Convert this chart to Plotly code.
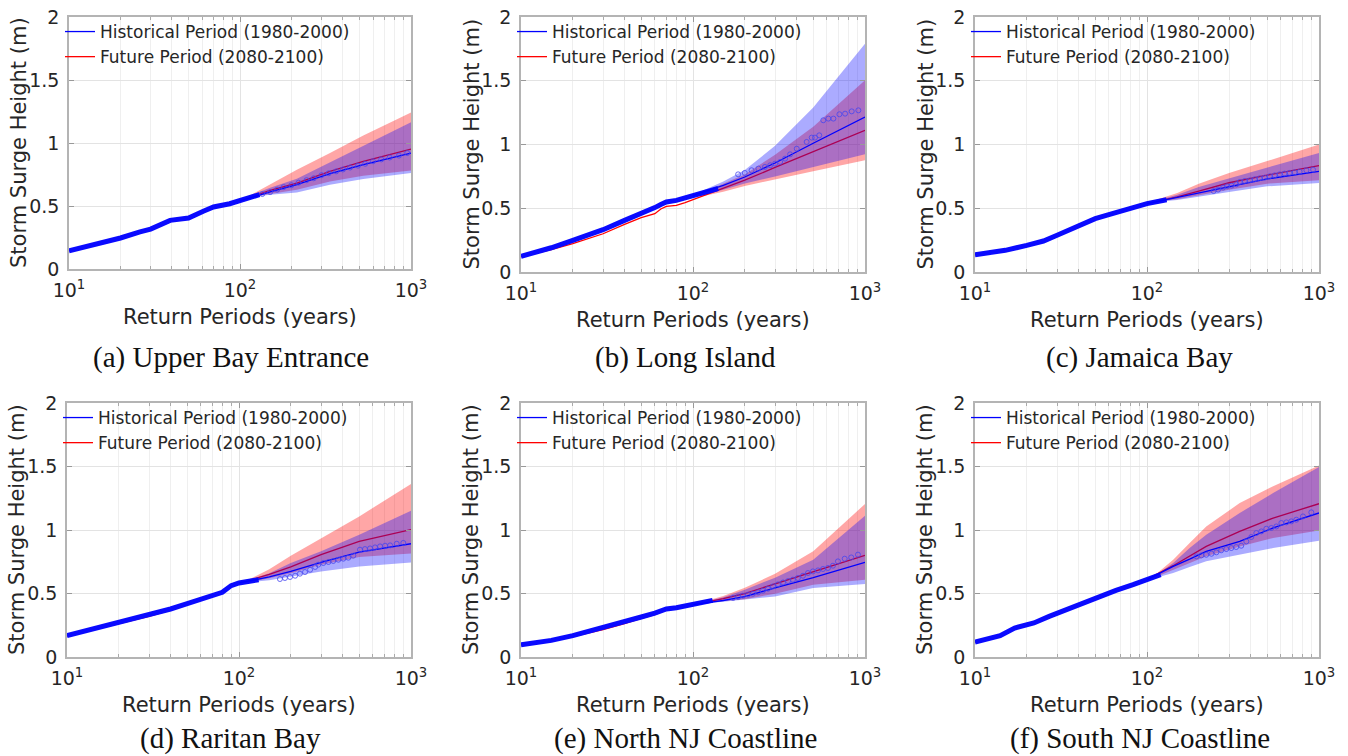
import plotly.graph_objects as go

W, H = 1348, 756

# ---------------- data ----------------
captions = ["(a) Upper Bay Entrance", "(b) Long Island", "(c) Jamaica Bay",
            "(d) Raritan Bay", "(e) North NJ Coastline", "(f) South NJ Coastline"]
hist_name = "Historical Period (1980-2000)"
fut_name = "Future Period (2080-2100)"
x_tick_vals = [10, 100, 1000]
x_tick_text = ["10<sup>1</sup>", "10<sup>2</sup>", "10<sup>3</sup>"]
y_tick_vals = [0, 0.5, 1, 1.5, 2]
y_tick_text = ["0", "0.5", "1", "1.5", "2"]

# (a) Upper Bay Entrance
a_emp_x = [10, 15, 20, 26, 30, 39, 50, 61, 70, 87, 100, 120, 130]
a_emp_y = [0.145, 0.20, 0.246, 0.294, 0.317, 0.386, 0.405, 0.458, 0.492, 0.518, 0.54, 0.577, 0.59]
a_fut_x = [10, 20, 30, 40, 50, 60, 70, 87, 100, 120, 150, 215, 336, 526, 1000]
a_fut_y = [0.143, 0.24, 0.31, 0.38, 0.40, 0.455, 0.49, 0.515, 0.54, 0.577, 0.625, 0.682, 0.775, 0.854, 0.952]
a_fit_x = [100, 150, 215, 336, 526, 1000]
a_fit_y = [0.54, 0.612, 0.669, 0.756, 0.828, 0.92]
a_band_x = [115, 150, 215, 336, 526, 1000]
a_fut_up = [0.585, 0.67, 0.788, 0.92, 1.06, 1.243]
a_fut_lo = [0.57, 0.595, 0.629, 0.695, 0.74, 0.782]
a_hist_up = [0.583, 0.645, 0.717, 0.847, 0.976, 1.164]
a_hist_lo = [0.57, 0.59, 0.608, 0.669, 0.714, 0.762]
a_circ_x = [135, 150, 165, 180, 200, 220, 245, 270, 300, 330, 365, 400, 440, 490, 540, 600, 670, 750, 850, 950]
a_circ_y = [0.595, 0.61, 0.63, 0.65, 0.665, 0.685, 0.705, 0.72, 0.745, 0.76, 0.775, 0.79,
            0.805, 0.82, 0.835, 0.855, 0.87, 0.885, 0.90, 0.92]

# (b) Long Island
b_emp_x = [10, 15, 20, 30, 40, 50, 60, 65, 70, 80, 90, 100, 120, 140]
b_emp_y = [0.123, 0.19, 0.248, 0.332, 0.405, 0.457, 0.505, 0.53, 0.549, 0.562, 0.583, 0.60, 0.625, 0.655]
b_fut_x = [10, 15, 20, 30, 40, 50, 60, 65, 70, 80, 90, 100, 150, 200, 300, 500, 1000]
b_fut_y = [0.12, 0.175, 0.222, 0.30, 0.374, 0.426, 0.457, 0.494, 0.515, 0.523, 0.544, 0.567,
           0.655, 0.72, 0.82, 0.945, 1.111]
b_fit_x = [100, 150, 200, 300, 500, 1000]
b_fit_y = [0.60, 0.68, 0.745, 0.855, 1.01, 1.216]
b_band_x = [110, 150, 200, 300, 500, 1000]
b_fut_up = [0.615, 0.69, 0.765, 0.92, 1.14, 1.503]
b_fut_lo = [0.59, 0.63, 0.675, 0.724, 0.79, 0.876]
b_hist_up = [0.63, 0.71, 0.80, 0.99, 1.29, 1.79]
b_hist_lo = [0.60, 0.645, 0.695, 0.75, 0.82, 0.923]
b_circ_x = [183, 200, 219, 240, 262, 281, 300, 321, 343, 367, 401, 458, 490, 512, 542,
            572, 612, 655, 710, 766, 837, 915]
b_circ_y = [0.766, 0.777, 0.798, 0.811, 0.824, 0.837, 0.85, 0.863, 0.889, 0.923, 0.967, 1.02,
            1.054, 1.054, 1.072, 1.19, 1.203, 1.203, 1.237, 1.242, 1.26, 1.268]

# (c) Jamaica Bay
c_emp_x = [10, 15, 20, 25, 30, 35, 40, 50, 60, 70, 80, 90, 100, 130]
c_emp_y = [0.136, 0.17, 0.209, 0.243, 0.288, 0.327, 0.366, 0.418, 0.45, 0.478, 0.499, 0.518, 0.536, 0.567]
c_fut_x = [10, 15, 20, 25, 30, 35, 40, 50, 60, 70, 80, 90, 100, 150, 200, 300, 500, 1000]
c_fut_y = [0.136, 0.17, 0.209, 0.243, 0.288, 0.327, 0.366, 0.418, 0.45, 0.478, 0.499, 0.518, 0.536,
           0.59, 0.635, 0.70, 0.76, 0.834]
c_fit_x = [100, 150, 200, 300, 500, 1000]
c_fit_y = [0.536, 0.585, 0.615, 0.665, 0.73, 0.79]
c_band_x = [110, 150, 200, 300, 500, 1000]
c_fut_up = [0.56, 0.62, 0.693, 0.777, 0.87, 1.0]
c_fut_lo = [0.55, 0.57, 0.60, 0.645, 0.693, 0.719]
c_hist_up = [0.555, 0.605, 0.667, 0.733, 0.82, 0.933]
c_hist_lo = [0.548, 0.565, 0.59, 0.627, 0.672, 0.698]
c_circ_x = [244, 259, 277, 292, 310, 331, 346, 370, 396, 423, 452, 483, 517, 553, 591, 631,
            675, 722, 771, 845, 923]
c_circ_y = [0.635, 0.646, 0.662, 0.672, 0.677, 0.688, 0.706, 0.714, 0.719, 0.727, 0.735, 0.74,
            0.751, 0.758, 0.766, 0.772, 0.777, 0.782, 0.787, 0.798, 0.803]

# (d) Raritan Bay
d_emp_x = [10, 15, 20, 25, 30, 35, 40, 50, 60, 70, 80, 90, 100, 130]
d_emp_y = [0.168, 0.228, 0.273, 0.299, 0.328, 0.352, 0.378, 0.42, 0.451, 0.478, 0.509, 0.562, 0.583, 0.609]
d_fut_x = [10, 20, 30, 40, 50, 60, 70, 80, 90, 100, 150, 200, 300, 500, 1000]
d_fut_y = [0.165, 0.265, 0.32, 0.37, 0.415, 0.45, 0.475, 0.505, 0.555, 0.58, 0.65, 0.709, 0.806, 0.91, 1.003]
d_fit_x = [100, 150, 200, 300, 500, 1000]
d_fit_y = [0.583, 0.63, 0.674, 0.745, 0.825, 0.892]
d_band_x = [110, 150, 200, 300, 500, 1000]
d_fut_up = [0.60, 0.69, 0.798, 0.937, 1.107, 1.362]
d_fut_lo = [0.585, 0.62, 0.66, 0.727, 0.787, 0.814]
d_hist_up = [0.598, 0.66, 0.74, 0.832, 0.963, 1.152]
d_hist_lo = [0.585, 0.605, 0.635, 0.674, 0.713, 0.745]
d_circ_x = [173, 185, 198, 212, 226, 242, 259, 277, 289, 309, 331, 353, 378, 404, 432, 462,
            505, 540, 578, 618, 661, 707, 756, 826, 902]
d_circ_y = [0.614, 0.622, 0.63, 0.64, 0.656, 0.669, 0.687, 0.709, 0.727, 0.74, 0.748, 0.756,
            0.766, 0.774, 0.782, 0.798, 0.845, 0.85, 0.855, 0.863, 0.871, 0.876, 0.879, 0.892, 0.898]

# (e) North NJ Coastline
e_emp_x = [10, 15, 20, 25, 30, 40, 50, 60, 70, 80, 100, 130]
e_emp_y = [0.097, 0.131, 0.168, 0.202, 0.234, 0.281, 0.315, 0.346, 0.378, 0.388, 0.412, 0.446]
e_fut_x = [10, 20, 30, 40, 50, 60, 70, 80, 100, 150, 200, 300, 500, 1000]
e_fut_y = [0.095, 0.16, 0.215, 0.262, 0.305, 0.333, 0.37, 0.385, 0.41, 0.46, 0.50, 0.575, 0.675, 0.80]
e_fit_x = [100, 150, 200, 300, 500, 1000]
e_fit_y = [0.412, 0.445, 0.475, 0.545, 0.625, 0.745]
e_band_x = [110, 150, 200, 300, 500, 1000]
e_fut_up = [0.43, 0.48, 0.545, 0.655, 0.832, 1.205]
e_fut_lo = [0.42, 0.44, 0.455, 0.498, 0.569, 0.609]
e_hist_up = [0.428, 0.47, 0.53, 0.625, 0.766, 1.113]
e_hist_lo = [0.42, 0.435, 0.451, 0.477, 0.543, 0.575]
e_circ_x = [171, 183, 195, 209, 223, 239, 255, 273, 292, 312, 334, 357, 381, 407, 436, 466,
            498, 533, 570, 609, 651, 696, 762, 832, 910]
e_circ_y = [0.465, 0.472, 0.483, 0.491, 0.498, 0.509, 0.522, 0.538, 0.556, 0.572, 0.587, 0.598,
            0.609, 0.622, 0.64, 0.661, 0.674, 0.682, 0.693, 0.701, 0.719, 0.753, 0.774, 0.784, 0.806]

# (f) South NJ Coastline
f_emp_x = [10, 14, 17, 22, 27, 34, 42, 53, 66, 83, 100, 120]
f_emp_y = [0.118, 0.168, 0.228, 0.268, 0.32, 0.373, 0.43, 0.478, 0.525, 0.57, 0.609, 0.648]
f_fut_x = [10, 14, 17, 22, 27, 34, 42, 53, 66, 83, 100, 142, 177, 221, 346, 541, 1000]
f_fut_y = [0.118, 0.168, 0.228, 0.268, 0.32, 0.373, 0.43, 0.478, 0.525, 0.57, 0.612,
           0.719, 0.795, 0.871, 0.989, 1.094, 1.207]
f_fit_x = [100, 142, 177, 221, 346, 541, 1000]
f_fit_y = [0.609, 0.714, 0.771, 0.832, 0.911, 1.016, 1.134]
f_band_x = [110, 142, 177, 221, 346, 541, 1000]
f_fut_up = [0.64, 0.766, 0.898, 1.028, 1.212, 1.344, 1.507]
f_fut_lo = [0.625, 0.687, 0.74, 0.793, 0.871, 0.937, 0.997]
f_hist_up = [0.635, 0.74, 0.858, 0.963, 1.134, 1.291, 1.496]
f_hist_lo = [0.62, 0.661, 0.709, 0.753, 0.805, 0.858, 0.916]
f_circ_x = [194, 207, 221, 237, 253, 270, 289, 309, 330, 353, 378, 404, 432, 462, 494, 528,
            565, 604, 646, 690, 738, 807, 902]
f_circ_y = [0.792, 0.80, 0.805, 0.813, 0.824, 0.84, 0.85, 0.858, 0.866, 0.876, 0.91, 0.945,
            0.976, 0.989, 1.01, 1.016, 1.028, 1.055, 1.06, 1.068, 1.081, 1.107, 1.139]

panels = [
    (a_emp_x, a_emp_y, a_fut_x, a_fut_y, a_fit_x, a_fit_y, a_band_x, a_fut_up, a_fut_lo, a_hist_up, a_hist_lo, a_circ_x, a_circ_y),
    (b_emp_x, b_emp_y, b_fut_x, b_fut_y, b_fit_x, b_fit_y, b_band_x, b_fut_up, b_fut_lo, b_hist_up, b_hist_lo, b_circ_x, b_circ_y),
    (c_emp_x, c_emp_y, c_fut_x, c_fut_y, c_fit_x, c_fit_y, c_band_x, c_fut_up, c_fut_lo, c_hist_up, c_hist_lo, c_circ_x, c_circ_y),
    (d_emp_x, d_emp_y, d_fut_x, d_fut_y, d_fit_x, d_fit_y, d_band_x, d_fut_up, d_fut_lo, d_hist_up, d_hist_lo, d_circ_x, d_circ_y),
    (e_emp_x, e_emp_y, e_fut_x, e_fut_y, e_fit_x, e_fit_y, e_band_x, e_fut_up, e_fut_lo, e_hist_up, e_hist_lo, e_circ_x, e_circ_y),
    (f_emp_x, f_emp_y, f_fut_x, f_fut_y, f_fit_x, f_fit_y, f_band_x, f_fut_up, f_fut_lo, f_hist_up, f_hist_lo, f_circ_x, f_circ_y),
]

# ---------------- layout geometry (pixels) ----------------
boxes = [(69, 411, 17, 269), (521, 865, 17, 272), (975, 1319, 17, 272),
         (67, 411, 403, 657), (521, 865, 403, 657), (975, 1319, 403, 657)]
cap_x = [231, 685, 1139, 230, 685, 1140]

TXT = "#262626"
FONT = "DejaVu Sans"
RED = "rgb(255,0,0)"
BLUE = "rgb(0,0,255)"
RED_FILL = "rgba(255,0,0,0.35)"
BLUE_FILL = "rgba(0,0,255,0.33)"

fig = go.Figure()
annotations = []
layout = {}

def px2x(p):
    return p / W

def px2y(p):
    return 1 - p / H

minor_vals = [v * m for m in (10, 100) for v in range(2, 10)]

for i, (emp_x, emp_y, fut_x, fut_y, fit_x, fit_y, band_x, fu, fl, hu, hl, cx, cy) in enumerate(panels):
    n = "" if i == 0 else str(i + 1)
    xr, yr = "x" + n, "y" + n
    leg = "legend" + n
    x0, x1, y0, y1 = boxes[i]

    # future band
    fig.add_trace(go.Scatter(x=band_x + band_x[::-1], y=fu + fl[::-1], fill="toself",
                             fillcolor=RED_FILL, line=dict(width=0), mode="lines",
                             hoverinfo="skip", showlegend=False, xaxis=xr, yaxis=yr))
    # future line
    fig.add_trace(go.Scatter(x=fut_x, y=fut_y, mode="lines", line=dict(color=RED, width=1.3),
                             name=fut_name, legend=leg, legendrank=2, showlegend=True,
                             xaxis=xr, yaxis=yr))
    # historical band
    fig.add_trace(go.Scatter(x=band_x + band_x[::-1], y=hu + hl[::-1], fill="toself",
                             fillcolor=BLUE_FILL, line=dict(width=0), mode="lines",
                             hoverinfo="skip", showlegend=False, xaxis=xr, yaxis=yr))
    # historical empirical (dense markers look like a thick line)
    fig.add_trace(go.Scatter(x=emp_x, y=emp_y, mode="lines", line=dict(color="rgb(10,10,255)", width=5),
                             showlegend=False, xaxis=xr, yaxis=yr))
    # historical fit
    fig.add_trace(go.Scatter(x=fit_x, y=fit_y, mode="lines", line=dict(color=BLUE, width=1.3),
                             name=hist_name, legend=leg, legendrank=1, showlegend=True,
                             xaxis=xr, yaxis=yr))
    # tail empirical points
    fig.add_trace(go.Scatter(x=cx, y=cy, mode="markers",
                             marker=dict(symbol="circle-open", size=5, color="rgba(70,70,240,0.8)",
                                         line=dict(width=1)),
                             showlegend=False, xaxis=xr, yaxis=yr))

    layout["xaxis" + n] = dict(
        type="log", range=[1, 3], domain=[px2x(x0), px2x(x1)], anchor=yr, automargin=False,
        tickvals=x_tick_vals, ticktext=x_tick_text, ticks="inside", ticklen=5,
        tickcolor="#999999", showline=True, linecolor="#b4b4b4", linewidth=1.5, mirror="ticks",
        showgrid=True, gridcolor="#e3e3e3", gridwidth=1, zeroline=False,
        tickfont=dict(size=19, color=TXT, family=FONT), ticklabelstandoff=3,
        minor=dict(tickvals=minor_vals, ticks="inside", ticklen=3, tickcolor="#aaaaaa",
                   showgrid=True, gridcolor="#efefef", gridwidth=1),
    )
    layout["yaxis" + n] = dict(
        range=[0, 2], domain=[px2y(y1), px2y(y0)], anchor=xr, automargin=False,
        tickvals=y_tick_vals, ticktext=y_tick_text, ticks="inside", ticklen=5,
        tickcolor="#999999", showline=True, linecolor="#b4b4b4", linewidth=1.5, mirror="ticks",
        showgrid=True, gridcolor="#e3e3e3", gridwidth=1, zeroline=False,
        tickfont=dict(size=19, color=TXT, family=FONT), ticklabelstandoff=4,
    )
    layout[leg] = dict(x=px2x(x0 - 9), y=px2y(y0 - 3), xanchor="left", yanchor="top",
                       bgcolor="rgba(0,0,0,0)", borderwidth=0,
                       font=dict(size=17, color=TXT, family=FONT), itemwidth=30,
                       tracegroupgap=0)

    annotations.append(dict(text="Return Periods (years)", x=px2x((x0 + x1) / 2), y=px2y(y1 + 48),
                            xref="paper", yref="paper", showarrow=False, xanchor="center",
                            yanchor="middle", font=dict(size=21, color=TXT, family=FONT)))
    annotations.append(dict(text="Storm Surge Height (m)", x=px2x(x0 - 50), y=px2y((y0 + y1) / 2),
                            xref="paper", yref="paper", showarrow=False, xanchor="center",
                            yanchor="middle", textangle=-90, font=dict(size=21, color=TXT, family=FONT)))
    if i < 3:
        cap_y, cap_anchor = px2y(357), "middle"
    else:
        cap_y, cap_anchor = 0.0, "bottom"
    annotations.append(dict(text=captions[i], x=px2x(cap_x[i]), y=cap_y, borderpad=0,
                            xref="paper", yref="paper", showarrow=False, xanchor="center",
                            yanchor=cap_anchor, font=dict(size=29, color="#111111", family="Liberation Serif")))

fig.update_layout(
    width=W, height=H, margin=dict(l=0, r=0, t=0, b=0, autoexpand=False),
    paper_bgcolor="white", plot_bgcolor="white",
    font=dict(family=FONT, color=TXT),
    annotations=annotations, **layout,
)

fig.write_html("out.html")
